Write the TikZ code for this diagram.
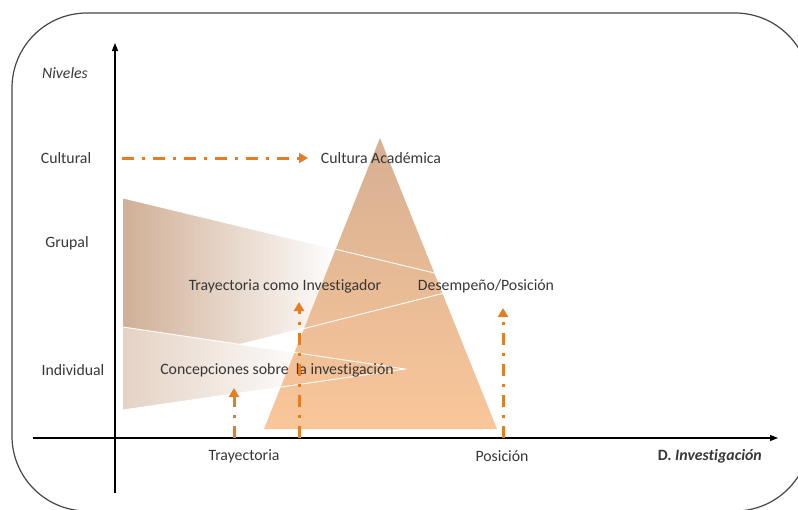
\documentclass[tikz,border=0pt]{standalone}
\usepackage{fontspec}
\setmainfont{Carlito}[Ligatures=NoCommon]
\usetikzlibrary{arrows.meta}
\definecolor{txt}{RGB}{55,55,55}
\definecolor{org}{RGB}{228,126,36}
\definecolor{bandA}{RGB}{208,175,150}
\definecolor{bandB}{RGB}{228,210,196}
\definecolor{pyrtop}{RGB}{214,176,146}
\definecolor{pyrbot}{RGB}{250,198,154}
\definecolor{framec}{RGB}{70,70,70}
\begin{document}
\begin{tikzpicture}[x=1pt,y=-1pt,
  lbl/.style={text=txt,font=\fontsize{15.8}{18}\selectfont,inner sep=0pt},
  lbli/.style={text=txt,font=\fontsize{15.8}{18}\selectfont\itshape,inner sep=0pt},
  dd/.style={org,line width=3pt,dash pattern=on 12pt off 8pt on 3pt off 8pt,-{Triangle[length=9pt,width=10pt]}},
  axisline/.style={black,line width=1.1pt,-{Triangle[length=8pt,width=6pt]}},
  edge/.style={white,line width=0.9pt}
]
\useasboundingbox (0,0) rectangle (798,509);
\begin{scope}
  \clip (0,0) rectangle (798,509);
  \draw[framec,line width=1.2pt,rounded corners=75pt] (12,13) rectangle (810,511);
\end{scope}

% band coordinates
\coordinate (ua) at (123,198);
\coordinate (ub) at (123,373);
\coordinate (ut) at (480,284);
\coordinate (ux) at (247,343);
\coordinate (la) at (123,327);
\coordinate (lb) at (123,410);
\coordinate (lt) at (405,369);

% upper band
\begin{scope}
  \clip (ua) -- (ut) -- (ub) -- cycle;
  \shade[left color=bandA, right color=white] (123,190) rectangle (340,380);
\end{scope}
% lower band
\begin{scope}
  \clip (la) -- (lt) -- (lb) -- cycle;
  \shade[left color=bandB, right color=white] (123,320) rectangle (315,415);
\end{scope}

% pyramid
\coordinate (apex) at (380,138);
\coordinate (bl) at (264,429);
\coordinate (br) at (497,429);
\shade[top color=pyrtop, bottom color=pyrbot] (apex) -- (br) -- (bl) -- cycle;

% band outlines
\draw[edge] (ua) -- (ut) -- (ux);
\draw[edge] (la) -- (lt) -- (lb);

% axes
\coordinate (ya0) at (115,493);
\coordinate (ya1) at (115,43);
\coordinate (xa0) at (33,438);
\coordinate (xa1) at (778,438);
\draw[axisline] (ya0) -- (ya1);
\draw[axisline] (xa0) -- (xa1);

% labels
\node[lbli] (niv) at (65,73) {Niveles};
\node[lbl] (cul) at (66,158) {Cultural};
\node[lbl] (gru) at (67,243) {Grupal};
\node[lbl] (ind) at (73,370) {Individual};
\node[lbl] (cac) at (381,158) {Cultura Académica};
\node[lbl] (tci) at (285,286) {Trayectoria como Investigador};
\node[lbl] (dp) at (486,286) {Desempeño/Posición};
\node[lbl] (csi) at (277,370) {Concepciones sobre\ \ la investigación};
\node[lbl] (tra) at (244,456) {Trayectoria};
\node[lbl] (pos) at (502,456) {Posición};
\node[lbl,anchor=east] (dinv) at (762,456) {\textbf{D. \textit{Investigación}}};

% orange dash-dot arrows
\coordinate (h0) at (122,158);
\coordinate (h1) at (308,158);
\draw[dd] (h0) -- (h1);
\coordinate (v1a) at (234,438);
\coordinate (v1b) at (234,388);
\draw[dd] (v1a) -- (v1b);
\coordinate (v2a) at (299,438);
\coordinate (v2b) at (299,302);
\draw[dd] (v2a) -- (v2b);
\coordinate (v3a) at (503,438);
\coordinate (v3b) at (503,308);
\draw[dd] (v3a) -- (v3b);
\end{tikzpicture}
\end{document}
